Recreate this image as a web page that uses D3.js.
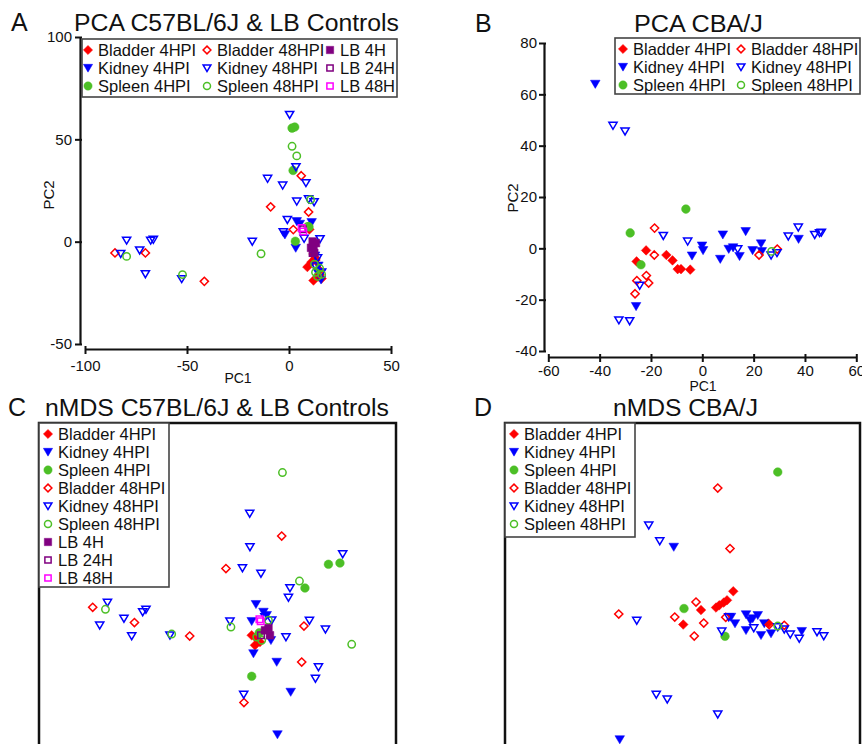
<!DOCTYPE html>
<html>
<head>
<meta charset="utf-8">
<script src="https://cdn.jsdelivr.net/npm/d3@7"></script>
<style>
  body { margin: 0; background: #fff; }
  text { font-family: "Liberation Sans", Arial, sans-serif; fill: #111; }
</style>
</head>
<body>
<script>
// ---- data: PCA C57BL/6J & LB controls (PC1, PC2) ----
var aBladder4 = [[12,-6],[13,-8],[9,-12.4],[12,-19],[14.5,-17],[15,-14],[11,-10],[16,-18],[10,6]];
var aKidney4 = [[-2,3.4],[3.3,-3.1],[3.8,9.9],[11.1,9.4],[5.3,8.6],[15.7,-18.6],[14.4,-11.8],[12.8,-6.9],[14,-15]];
var aSpleen4 = [[1.5,55.5],[2.8,56],[2,34.8],[3.1,0.2],[9.8,7.2]];
var aBladder48 = [[-85.3,-5.5],[-70.4,-5.5],[-41.5,-19.4],[-9,17],[6,32.2],[9.6,14.5],[2.1,5.9],[13,-9],[15,-16]];
var aKidney48 = [[-79.6,0.6],[-82.5,-5.9],[-73.2,-4.2],[-70.4,-15.8],[-67.8,0.6],[-66.5,1],[-52.6,-18.2],[-18,0.1],
  [-10.5,30.8],[-3.1,27.5],[0.3,62],[3.4,36.5],[8.3,28.7],[3.8,19.7],[9.6,20.8],[12.3,19.4],[-0.8,10.7],[-2.8,4.7],
  [7.4,1.5],[15.2,1.3],[13,-12],[16,-15],[14,-8]];
var aSpleen48 = [[-79.6,-7.2],[-52.2,-16.1],[-13.7,-5.9],[1.5,46.6],[3.8,41.9],[10.6,20.5],[9.2,7.5],
  [12.5,-11],[15,-13],[13,-15],[16,-16],[14,-17]];
var aLB4 = [[11.6,0.1],[13.2,-0.7],[10.8,-3],[12.4,-5.5],[12,-2]];
var aLB24 = [[11.6,-5.5],[6.7,6.1]];
var aLB48 = [[6.2,6.7],[7,5]];

// ---- data: PCA CBA/J (PC1, PC2) ----
var bBladder4 = [[-25.6,-5.1],[-21.9,-0.8],[-14,-2.6],[-11.6,-4.7],[-9.6,-8.1],[-8.3,-8.1],[-4.7,-8.3]];
var bKidney4 = [[-41.7,64],[-25.8,-22.6],[-4,-2.9],[-0.1,1],[0.3,-0.8],[7,-4.2],[8,5.3],[10.3,-0.3],[12,0.3],
  [14.5,-3.1],[16.9,6.6],[19.6,-0.8],[22.9,1.8],[23.2,-1.2],[37.5,3.6]];
var bSpleen4 = [[-28.1,6],[-6.4,15.3],[-23.9,-6.4]];
var bBladder48 = [[-18.6,7.9],[-18.7,-2.6],[-25.5,-12.6],[-21.8,-10.6],[-20.9,-13.5],[-26.2,-17.7],[22.1,-2.6],[29.2,-0.3]];
var bKidney48 = [[-34.8,47.8],[-30.1,45.6],[-32.5,-28],[-28.3,-28.3],[-24.4,-14.5],[-15.2,4.9],[-5.7,2.7],[13.8,-0.3],
  [26.8,-2.7],[29.1,-1.8],[33.5,4.7],[37.4,8.2],[43.8,5.3],[45.7,6],[46.4,6.2]];
var bSpleen48 = [[27,-1.2]];

// ---- data: nMDS C57BL/6J & LB controls (NMDS1, NMDS2) ----
var cBladder4 = [[-0.04,-0.02],[-0.027,-0.06],[-0.02,-0.033],[-0.007,-0.047]];
var cKidney4 = [[-0.023,0.104],[0.007,0.073],[-0.04,0.036],[-0.033,-0.093],[0.06,-0.127],[0.116,-0.247],
  [0.063,-0.417],[0.037,-0.04],[0.02,0.06]];
var cSpleen4 = [[0.267,0.264],[0.313,0.269],[0.173,0.169],[-0.04,-0.184],[-0.01,-0.01]];
var cBladder48 = [[-0.676,0.092],[-0.509,0.031],[-0.288,-0.023],[-0.143,0.247],[0.08,0.377],[0.169,0.017],
  [0.16,-0.127],[-0.071,-0.289]];
var cKidney48 = [[-0.617,0.111],[-0.648,0.02],[-0.551,0.047],[-0.52,-0.023],[-0.476,0.073],[-0.463,0.083],
  [-0.367,-0.02],[-0.127,0.036],[-0.048,0.467],[-0.047,0.333],[-0.077,0.249],[-0.003,0.227],[0.113,0.169],
  [0.107,0.131],[0.324,0.305],[0.191,0.039],[0.255,0.004],[0.097,-0.027],[0.227,-0.147],[0.215,-0.193],
  [-0.072,-0.257],[0.04,0.04],[0.013,0.053]];
var cSpleen48 = [[-0.625,0.084],[-0.36,-0.015],[0.083,0.631],[0.151,0.197],[-0.123,0.013],[0.36,-0.056],
  [0.027,0.04],[-0.02,-0.027],[0,-0.04]];
var cLB4 = [[0.013,0],[0.027,0.009],[0.033,-0.02]];
var cLB24 = [[-0.003,-0.02]];
var cLB48 = [[-0.009,0.044],[-0.004,0.036]];

// ---- data: nMDS CBA/J (NMDS1, NMDS2) ----
var dBladder4 = [[0.009,0.136],[-0.016,0.1],[-0.029,0.091],[-0.047,0.08],[-0.06,0.071],[-0.12,0.061],
  [-0.191,0.003],[0.149,0.007]];
var dKidney4 = [[-0.229,0.313],[-0.445,-0.457],[0,0.033],[0.016,0.007],[0.06,0.043],[0.077,0.02],[0.107,0.04],
  [0.06,-0.02],[0.12,-0.04],[0.16,-0.033],[0.133,0.007],[0.283,-0.024],[0.087,0.027]];
var dSpleen4 = [[0.187,0.613],[-0.188,0.067],[-0.024,-0.044]];
var dBladder48 = [[-0.053,0.549],[-0.004,0.307],[-0.449,0.045],[-0.14,0.093],[-0.225,0.033],[-0.109,0.009],
  [-0.147,-0.043],[-0.021,0.032],[0.213,0],[0.153,0.003]];
var dKidney48 = [[-0.329,0.4],[-0.285,0.337],[-0.377,0.019],[-0.299,-0.277],[-0.255,-0.296],[-0.053,-0.356],
  [-0.037,-0.024],[-0.009,0.033],[0.091,-0.011],[0.213,-0.016],[0.237,-0.036],[0.273,-0.053],[0.344,-0.027],
  [0.371,-0.043],[0.187,-0.007]];
var dSpleen48 = [[0.187,-0.003]];

// ---- tick labels ----
var aXTicks = [-100, -50, 0, 50], aYTicks = [-50, 0, 50, 100];
var bXTicks = [-60, -40, -20, 0, 20, 40, 60], bYTicks = [-40, -20, 0, 20, 40, 60, 80];

// ---- series styles ----
var red = "#ff0000", blue = "#0000ff", green = "#4cbf26", purple = "#800080", magenta = "#ff00ff";
var styles = {
  "Bladder 4HPI":  { color: red, shape: "diamond", filled: true },
  "Kidney 4HPI":   { color: blue, shape: "tri", filled: true },
  "Spleen 4HPI":   { color: green, shape: "circle", filled: true },
  "Bladder 48HPI": { color: red, shape: "diamond", filled: false },
  "Kidney 48HPI":  { color: blue, shape: "tri", filled: false },
  "Spleen 48HPI":  { color: green, shape: "circle", filled: false },
  "LB 4H":  { color: purple, shape: "square", filled: true },
  "LB 24H": { color: purple, shape: "square", filled: false },
  "LB 48H": { color: magenta, shape: "square", filled: false }
};

var names6 = ["Bladder 4HPI", "Kidney 4HPI", "Spleen 4HPI", "Bladder 48HPI", "Kidney 48HPI", "Spleen 48HPI"];
var names9 = names6.concat(["LB 4H", "LB 24H", "LB 48H"]);

var svg = d3.select("body").append("svg")
  .attr("width", 862)
  .attr("height", 744);

function shapePath(shape, s) {
  if (shape == "diamond") return "M0," + (-s) + "L" + s + ",0L0," + s + "L" + (-s) + ",0Z";
  if (shape == "tri") return "M" + (-s) + "," + (-s * 0.8) + "L" + s + "," + (-s * 0.8) + "L0," + (s * 0.9) + "Z";
  if (shape == "square") return "M" + (-s * 0.8) + "," + (-s * 0.8) + "h" + (s * 1.6) + "v" + (s * 1.6) + "h" + (-s * 1.6) + "Z";
  return d3.arc()({ innerRadius: 0, outerRadius: s * 0.9, startAngle: 0, endAngle: 2 * Math.PI });
}

function drawMarker(g, name, x, y, s) {
  var st = styles[name];
  var open = !st.filled;
  g.append("path")
    .attr("d", shapePath(st.shape, open ? s - 0.7 : s))
    .attr("transform", "translate(" + x + "," + y + ")")
    .attr("fill", st.filled ? st.color : "none")
    .attr("stroke", st.color)
    .attr("stroke-width", open ? 1.5 : 0.5);
}

function drawSeries(g, names, series, x, y) {
  names.forEach(function(n, i) {
    series[i].forEach(function(d) {
      drawMarker(g, n, x(d[0]), y(d[1]), 4.8);
    });
  });
}

function legend(g, names, x0, y0, w, h, cols, rows, colX, textDx) {
  g.append("rect")
    .attr("x", x0).attr("y", y0).attr("width", w).attr("height", h)
    .attr("fill", "#fff").attr("stroke", "#444").attr("stroke-width", 1.6);
  names.forEach(function(n, i) {
    var c = Math.floor(i / rows), r = i % rows;
    var cx = colX[c], cy = y0 + 11 + r * 18;
    drawMarker(g, n, cx, cy, 4.6);
    g.append("text")
      .attr("x", cx + textDx).attr("y", cy + 6)
      .attr("font-size", 16.5)
      .text(n);
  });
}

// plain hyphen for negative ticks, like the original
var fmt = function(d) { return String(d); };

function styleAxis(ax) {
  ax.selectAll(".domain").attr("stroke", "#111").attr("stroke-width", 2.2);
  ax.selectAll(".tick line").attr("stroke", "#111").attr("stroke-width", 2);
  ax.selectAll(".tick text")
    .attr("font-size", 15)
    .attr("font-family", "Liberation Sans, Arial, sans-serif")
    .attr("fill", "#222");
}

function panelTitle(letter, lx, title, tx, ty, tlen) {
  svg.append("text").attr("x", lx).attr("y", ty).attr("font-size", 25).text(letter);
  svg.append("text").attr("x", tx).attr("y", ty).attr("font-size", 23)
    .attr("textLength", tlen).attr("lengthAdjust", "spacingAndGlyphs")
    .text(title);
}

// ================= Panel A =================
var xA = d3.scaleLinear().domain([-100, 50]).range([85, 391]);
var yA = d3.scaleLinear().domain([-50, 100]).range([344, 37]);

var axA = svg.append("g").attr("transform", "translate(0,349)")
  .call(d3.axisBottom(xA).tickValues(aXTicks).tickFormat(fmt).tickSize(5).tickSizeOuter(0).tickPadding(6));
axA.selectAll(".tick line").attr("y1", -3);
styleAxis(axA);
var ayA = svg.append("g").attr("transform", "translate(80,0)")
  .call(d3.axisLeft(yA).tickValues(aYTicks).tickFormat(fmt).tickSize(5).tickSizeOuter(0).tickPadding(3));
ayA.selectAll(".tick line").attr("x1", 2);
styleAxis(ayA);

svg.append("text").attr("x", 238).attr("y", 383).attr("text-anchor", "middle").attr("font-size", 14).text("PC1");
svg.append("text").attr("transform", "translate(54,195) rotate(-90)").attr("text-anchor", "middle")
  .attr("font-size", 15).text("PC2");

panelTitle("A", 11, "PCA C57BL/6J & LB Controls", 74, 31, 325);

drawSeries(svg.append("g"), names9,
  [aBladder4, aKidney4, aSpleen4, aBladder48, aKidney48, aSpleen48, aLB4, aLB24, aLB48], xA, yA);
legend(svg.append("g"), names9, 82, 39, 315, 58, 3, 3, [88, 207, 330], 10);

// ================= Panel B =================
var xB = d3.scaleLinear().domain([-60, 60]).range([548.3, 856.3]);
var yB = d3.scaleLinear().domain([-40, 80]).range([351, 43]);

var axB = svg.append("g").attr("transform", "translate(0,357)")
  .call(d3.axisBottom(xB).tickValues(bXTicks).tickFormat(fmt).tickSize(5).tickSizeOuter(0).tickPadding(3));
axB.selectAll(".tick line").attr("y1", -3);
styleAxis(axB);
var ayB = svg.append("g").attr("transform", "translate(544,0)")
  .call(d3.axisLeft(yB).tickValues(bYTicks).tickFormat(fmt).tickSize(5).tickSizeOuter(0).tickPadding(2));
ayB.selectAll(".tick line").attr("x1", 2);
styleAxis(ayB);

svg.append("text").attr("x", 703).attr("y", 391).attr("text-anchor", "middle").attr("font-size", 14).text("PC1");
svg.append("text").attr("transform", "translate(518,198) rotate(-90)").attr("text-anchor", "middle")
  .attr("font-size", 15).text("PC2");

panelTitle("B", 475, "PCA CBA/J", 634, 32, 129);

drawSeries(svg.append("g"), names6,
  [bBladder4, bKidney4, bSpleen4, bBladder48, bKidney48, bSpleen48], xB, yB);
legend(svg.append("g"), names6, 615, 38, 245, 56, 2, 3, [623, 741], 10);

// ================= Panel C =================
var xC = d3.scaleLinear().domain([-1, 1]).range([11.7, 511.7]);
var yC = d3.scaleLinear().domain([-1, 1]).range([880.3, 380.3]);

panelTitle("C", 8, "nMDS C57BL/6J & LB Controls", 45, 416, 344);
svg.append("rect").attr("x", 39).attr("y", 423).attr("width", 357).attr("height", 400)
  .attr("fill", "none").attr("stroke", "#111").attr("stroke-width", 2.5);
drawSeries(svg.append("g"), names9,
  [cBladder4, cKidney4, cSpleen4, cBladder48, cKidney48, cSpleen48, cLB4, cLB24, cLB48], xC, yC);
legend(svg.append("g"), names9, 39, 423, 130, 164, 1, 9, [48], 10);

// ================= Panel D =================
var xD = d3.scaleLinear().domain([-1, 1]).range([481, 981]);
var yD = d3.scaleLinear().domain([-1, 1]).range([875.3, 375.3]);

panelTitle("D", 474, "nMDS CBA/J", 613, 416, 145);
svg.append("rect").attr("x", 505).attr("y", 423).attr("width", 355).attr("height", 400)
  .attr("fill", "none").attr("stroke", "#111").attr("stroke-width", 2.5);
drawSeries(svg.append("g"), names6,
  [dBladder4, dKidney4, dSpleen4, dBladder48, dKidney48, dSpleen48], xD, yD);
legend(svg.append("g"), names6, 505, 423, 130, 114, 1, 6, [514], 10);
</script>
</body>
</html>
